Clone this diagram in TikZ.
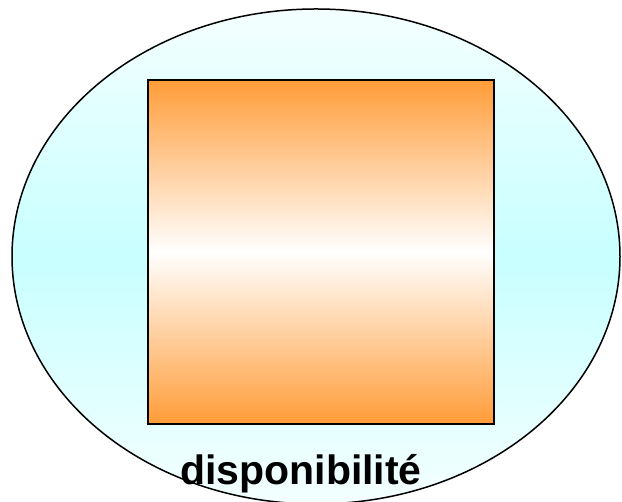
\documentclass[tikz,border=0pt]{standalone}
\usepackage{fontspec}
\setmainfont{Liberation Sans}
\usetikzlibrary{shapes.geometric}
\definecolor{paleCyan}{HTML}{F4FFFF}
\definecolor{midCyan}{HTML}{C8FFFF}
\definecolor{deepOrange}{HTML}{FF9C38}

\begin{document}
\begin{tikzpicture}[x=1pt, y=1pt]
  % Page frame (reference proportions)
  \useasboundingbox (0,0) rectangle (622,502);
  % Outer ellipse with light cyan band
  \node[ellipse, draw=black, line width=1.5pt, inner sep=0pt,
        minimum width=608pt, minimum height=495pt,
        top color=paleCyan, bottom color=paleCyan, middle color=midCyan]
    (zone) at (316,245.5) {};
  % Orange square, white in the middle
  \node[rectangle, draw=black, line width=1.5pt, inner sep=0pt,
        minimum width=346pt, minimum height=344pt,
        top color=deepOrange, bottom color=deepOrange, middle color=white]
    (carre) at (321,250) {};
  % Caption over the ellipse outline
  \node[anchor=base, inner sep=0pt, font=\bfseries\fontsize{41}{46}\selectfont]
    (label) at (301,17) {disponibilité};
\end{tikzpicture}
\end{document}
